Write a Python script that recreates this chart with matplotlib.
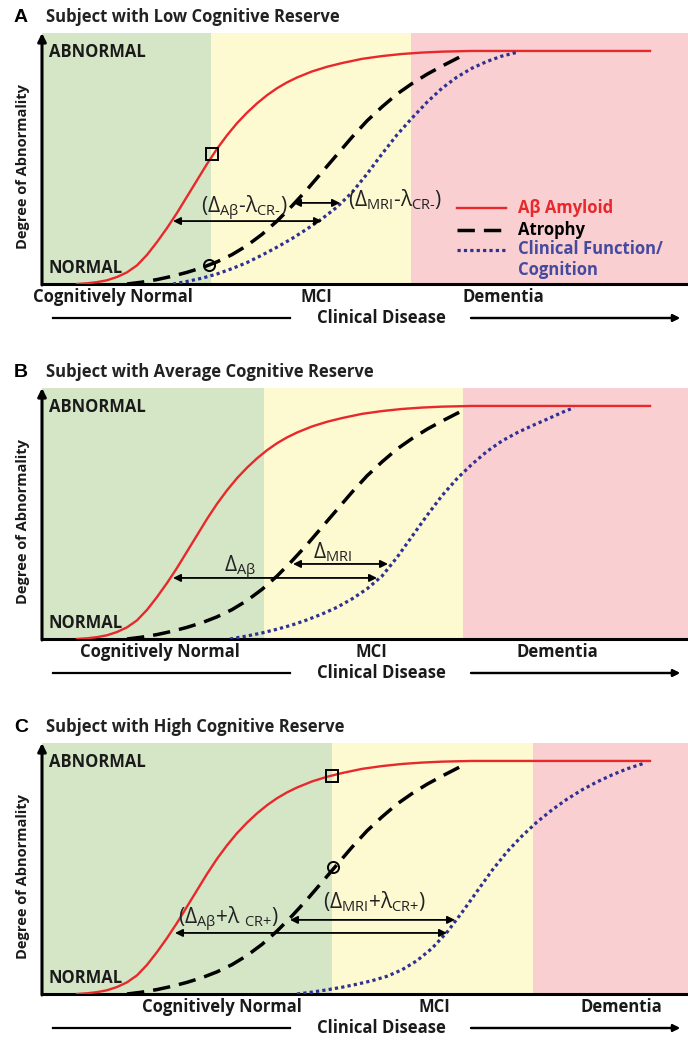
import matplotlib
matplotlib.use('Agg')
import matplotlib.pyplot as plt
from matplotlib.lines import Line2D

plt.rcParams['font.family'] = ['Open Sans', 'DejaVu Sans']
plt.rcParams['mathtext.fontset'] = 'custom'
plt.rcParams['mathtext.rm'] = 'Open Sans'
plt.rcParams['mathtext.it'] = 'Open Sans'
plt.rcParams['mathtext.default'] = 'rm'

# ---- data (x: disease time, y: degree of abnormality 0-100)
amyloid_x = [35, 45, 55, 65, 75, 85, 95, 105, 115, 125, 135, 145, 155, 165,
             175, 185, 195, 205, 215, 225, 235, 245, 255, 270, 285, 300, 320,
             340, 360, 380, 400, 430, 608]
amyloid_y = [0, 0.3, 0.8, 1.6, 3, 5, 8, 12.5, 18, 24, 30.5, 37.5, 44.5, 51.5,
             58, 63.8, 69, 73.5, 77.5, 81, 84, 86.5, 88.6, 91.2, 93.2, 94.8,
             96.6, 97.8, 98.7, 99.3, 99.7, 100, 100]

atrophy_x = [85, 100, 115, 130, 145, 160, 175, 190, 205, 220, 235, 250, 265,
             280, 295, 310, 325, 340, 355, 370, 385, 400, 415, 422]
atrophy_y = [0, 0.8, 1.9, 3.3, 5.0, 7.0, 9.5, 12.6, 16.5, 21.3, 27, 33.5, 40.5,
             48, 55.5, 63, 70, 76, 81.5, 86, 90, 93.5, 96.8, 98.3]

clin_low_x = [131, 145, 160, 175, 190, 205, 220, 235, 250, 265, 280, 295, 310,
              325, 340, 355, 370, 385, 400, 415, 430, 445, 460, 475]
clin_low_y = [0, 1.1, 2.5, 4.3, 6.6, 9.2, 12.4, 15.8, 19.5, 23.6, 28, 33, 39.3,
              47.2, 55.8, 64, 71.2, 78, 84, 88.8, 92.6, 95.5, 97.8, 99.4]

clin_avg_x = [188, 205, 220, 235, 250, 265, 280, 295, 310, 325, 340, 355, 370,
              385, 400, 415, 430, 445, 460, 475, 490, 505, 520, 532]
clin_avg_y = [0, 1.3, 2.6, 4.2, 6.0, 8.2, 10.7, 13.6, 17.2, 21.5, 27, 35, 44,
              53, 61.5, 68.8, 75, 80.5, 85, 88.5, 91.5, 94.3, 97.2, 99.3]

clin_high_x = [255, 270, 285, 300, 315, 330, 345, 360, 375, 390, 405, 420, 435,
               450, 465, 480, 495, 510, 525, 540, 555, 570, 585, 602]
clin_high_y = [0, 0.8, 1.8, 2.9, 4.2, 5.7, 7.6, 10.4, 14.3, 19.6, 26.5, 35, 44,
               53, 61, 67.8, 73.8, 79, 83.6, 87.6, 91, 94, 96.6, 99]

# stage boundaries (end of cognitively normal, end of MCI)
stage_low = [169, 369]
stage_avg = [222, 421]
stage_high = [290, 491]

titles = ['Subject with Low Cognitive Reserve',
          'Subject with Average Cognitive Reserve',
          'Subject with High Cognitive Reserve']
letters = ['A', 'B', 'C']
stage_names = ['Cognitively Normal', 'MCI', 'Dementia']

# delta arrows: (x_start, x_end, y) for amyloid-to-clinical and atrophy-to-clinical
arrows_low = [(131, 280, 27), (251, 298, 34.8)]
arrows_avg = [(131, 335, 26.2), (251, 346, 32.2)]
arrows_high = [(133, 405, 26.2), (248, 413, 31.8)]

labels_low = [r'(Δ$_{\text{Aβ}}$-λ$_{\text{CR-}}$)',
              r'(Δ$_{\text{MRI}}$-λ$_{\text{CR-}}$)']
labels_avg = [r'Δ$_{\text{Aβ}}$', r'Δ$_{\text{MRI}}$']
labels_high = [r'(Δ$_{\text{Aβ}}$+λ $_{\text{CR+}}$)',
               r'(Δ$_{\text{MRI}}$+λ$_{\text{CR+}}$)']

# open square on amyloid and open circle on atrophy
marks_low = [(170, 55.8), (167, 8.2)]
marks_high = [(290, 93.6), (291, 54.5)]

# ---- layout (pixels of the 688x1040 figure)
W, H = 688.0, 1040.0
panel_bottoms = [284, 639, 994]
label_pos = [
    [((202, 32.6), 'center'), ((306, 36), 'left')],
    [((198, 30.5), 'center'), ((271, 37.3), 'left')],
    [((186, 31.8), 'center'), ((333, 39.5), 'center')],
]
stage_label_x = [[71, 274, 461], [118, 329, 515], [180, 392, 579]]

GREEN = '#d5e6c6'
YELLOW = '#fdf9d1'
PINK = '#f9cfd1'
RED = '#e8282b'
BLUE = '#2e3192'
XMAX = 646
YMAX = 107.7

clinical = [(clin_low_x, clin_low_y), (clin_avg_x, clin_avg_y),
            (clin_high_x, clin_high_y)]
stages = [stage_low, stage_avg, stage_high]
arrows = [arrows_low, arrows_avg, arrows_high]
labels = [labels_low, labels_avg, labels_high]
marks = [marks_low, None, marks_high]


def fx(px):
    return px / W


def fy(py):
    return 1 - py / H


fig = plt.figure(figsize=(6.88, 10.40), dpi=100)

for i in range(3):
    bot = panel_bottoms[i]
    ax = fig.add_axes([fx(42), fy(bot), fx(646), 251 / H])
    ax.set_xlim(0, XMAX)
    ax.set_ylim(0, YMAX)
    # disease stage bands
    ax.axvspan(0, stages[i][0], color=GREEN, lw=0, zorder=0)
    ax.axvspan(stages[i][0], stages[i][1], color=YELLOW, lw=0, zorder=0)
    ax.axvspan(stages[i][1], XMAX, color=PINK, lw=0, zorder=0)

    # curves
    ax.plot(amyloid_x, amyloid_y, color=RED, lw=1.7, zorder=3)
    ax.plot(atrophy_x, atrophy_y, color='black', lw=2.5,
            linestyle=(0, (5, 2.6)), dash_capstyle='butt', zorder=3)
    cx, cy = clinical[i]
    ax.plot(cx, cy, color=BLUE, lw=2.3, linestyle=(0, (1, 1)), zorder=3)

    # delta arrows
    for x0, x1, y in arrows[i]:
        ax.annotate('', xy=(x1, y), xytext=(x0, y),
                    arrowprops=dict(arrowstyle='<|-|>', color='black', lw=1.3,
                                    mutation_scale=11, shrinkA=0, shrinkB=0),
                    zorder=4)
    for (pos, ha), txt in zip(label_pos[i], labels[i]):
        ax.text(pos[0], pos[1], txt, fontsize=15, ha=ha, va='center',
                color='#222222', zorder=5)

    if marks[i] is not None:
        sq, ci = marks[i]
        ax.plot(sq[0], sq[1], marker='s', ms=8, mfc='none', mec='black',
                mew=1.4, zorder=5)
        ax.plot(ci[0], ci[1], marker='o', ms=8, mfc='none', mec='black',
                mew=1.4, zorder=5)

    # axes
    for s in ['top', 'right', 'left']:
        ax.spines[s].set_visible(False)
    ax.spines['bottom'].set_linewidth(2.2)
    ax.set_xticks([])
    ax.set_yticks([])
    ax.annotate('', xy=(0, 1.0), xytext=(0, -0.004), xycoords='axes fraction',
                arrowprops=dict(arrowstyle='-|>', color='black', lw=2.2,
                                mutation_scale=12, shrinkA=0, shrinkB=0),
                annotation_clip=False)
    ax.text(7, 99.6, 'ABNORMAL', fontsize=12, fontweight='bold',
            va='center', ha='left', color='#1a1a1a')
    ax.text(7, 6.9, 'NORMAL', fontsize=12, fontweight='bold',
            va='center', ha='left', color='#1a1a1a')
    ax.text(-0.03, 0.47, 'Degree of Abnormality', transform=ax.transAxes,
            rotation=90, fontsize=10.5, fontweight='bold', ha='center',
            va='center', color='#1a1a1a')

    # stage names under x axis
    for sx, name in zip(stage_label_x[i], stage_names):
        fig.text(fx(sx + 42), fy(bot + 13), name, fontsize=12,
                 fontweight='bold', ha='center', va='center', color='#1a1a1a')
    fig.text(fx(381), fy(bot + 34), 'Clinical Disease', fontsize=12,
             fontweight='bold', ha='center', va='center', color='#1a1a1a')
    fig.add_artist(Line2D([fx(53), fx(290)], [fy(bot + 34)] * 2,
                          color='black', lw=1.6))
    fig.add_artist(plt.annotate('', xy=(fx(680), fy(bot + 34)),
                                xytext=(fx(471), fy(bot + 34)),
                                xycoords='figure fraction',
                                arrowprops=dict(arrowstyle='-|>', lw=1.6,
                                                color='black',
                                                mutation_scale=10,
                                                shrinkA=0, shrinkB=0)))

    # panel title
    top = bot - 267
    fig.text(fx(21), fy(top), letters[i], fontsize=14, fontweight='bold',
             family='Liberation Sans', ha='center', va='center')
    fig.text(fx(46), fy(top), titles[i], fontsize=12, fontweight='bold',
             ha='left', va='center', color='#222222')

    # legend only in the first panel
    if i == 0:
        leg = [(RED, '-', 1.7, 'Aβ Amyloid', RED, 32.6),
               ('black', (0, (5, 2.6)), 2.5, 'Atrophy', 'black', 23.2),
               (BLUE, (0, (1, 1)), 2.3, 'Clinical Function/\nCognition',
                '#454a9e', 14.6)]
        for col, ls, lw, name, tc, ly in leg:
            ax.plot([415, 464], [ly, ly], color=col, linestyle=ls, lw=lw,
                    dash_capstyle='butt', zorder=5)
            ax.text(476, ly + (4.3 if '\n' in name else 0), name, fontsize=12,
                    fontweight='bold', color=tc, ha='left', va='top'
                    if '\n' in name else 'center', linespacing=1.25)

fig.savefig('out.png', dpi=100)
